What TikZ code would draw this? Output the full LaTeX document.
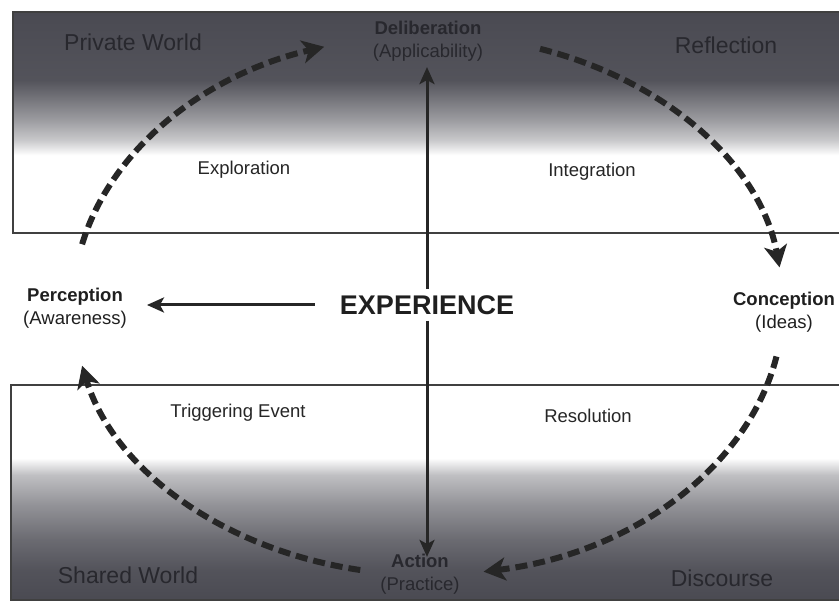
\documentclass[tikz,border=0pt]{standalone}
\usepackage{fontspec}
\setsansfont{Liberation Sans}
\usetikzlibrary{arrows.meta,calc}
\definecolor{dusk}{RGB}{74,74,82}
\definecolor{ink}{RGB}{40,40,46}
\pgfdeclareverticalshading{privatefade}{100bp}{color(0bp)=(white); color(42.6bp)=(white); color(46bp)=(dusk!30); color(50.6bp)=(dusk!55); color(56.2bp)=(dusk!80); color(59.6bp)=(dusk!95); color(75bp)=(dusk); color(100bp)=(dusk)}
\pgfdeclareverticalshading{sharedfade}{100bp}{color(0bp)=(dusk); color(25bp)=(dusk); color(32bp)=(dusk!95); color(39bp)=(dusk!82); color(47.1bp)=(dusk!60); color(54.1bp)=(dusk!35); color(58bp)=(white); color(100bp)=(white)}
\tikzset{every picture/.style={/utils/exec={\sffamily}}}
\tikzset{stage/.style={align=center,inner sep=3pt,text=black!88,font=\fontsize{18.5}{22.5}\selectfont}}
\tikzset{zone/.style={text=black!85,font=\fontsize{18.5}{22}\selectfont}}
\tikzset{world/.style={text=ink,font=\fontsize{23}{27}\selectfont}}
\tikzset{phase/.style={draw=black!85,line width=6pt,dash pattern=on 12pt off 6pt,-{Stealth[length=22pt,width=23pt,inset=6pt]}}}
\tikzset{pull/.style={draw=black!85,line width=3pt,-{Stealth[length=17pt,width=15pt,inset=4pt]}}}

\begin{document}
\begin{tikzpicture}[x=1pt,y=1pt]
    \useasboundingbox (0,0) rectangle (839,604);
    % the two worlds
    \shade [shading=privatefade] (13,371) rectangle (839,592);
    \shade [shading=sharedfade] (11,4) rectangle (839,219);
    \draw [black!75,line width=1.2pt] (839,592) -- (13,592) -- (13,371) -- (839,371);
    \draw [black!75,line width=1.2pt] (839,219) -- (11,219) -- (11,4) -- (839,4);
    \node [world] (private) at (133,562) {Private World};
    \node [world] (reflect) at (726,559) {Reflection};
    \node [world] (shared) at (128,29) {Shared World};
    \node [world] (discourse) at (722,26) {Discourse};
    \node [zone] (explor) at (244,434) {Exploration};
    \node [zone] (integ) at (592,432) {Integration};
    \node [zone] (trigger) at (238,191) {Triggering Event};
    \node [zone] (resol) at (588,188) {Resolution};
    % phases
    \node [font=\fontsize{27}{30}\selectfont\bfseries,text=black!88,inner sep=6pt] (exp) at (427,299) {EXPERIENCE};
    \node [stage] (perc) at (75,296) {\textbf{Perception}\\(Awareness)};
    \node [stage] (conc) at (784,292) {\textbf{Conception}\\(Ideas)};
    \node [stage,text=ink] (delib) at (428,563) {\textbf{Deliberation}\\(Applicability)};
    \node [stage,text=ink] (act) at (420,30) {\textbf{Action}\\(Practice)};
    \draw [pull,shorten >=3pt] (exp.north) -- (exp.north |- delib.south);
    \draw [pull,shorten >=-6pt] (exp.south) -- (exp.south |- act.north);
    \draw [pull,shorten <=19pt,shorten >=17pt] (exp.west) -- (exp.west -| perc.east);
    % the inquiry cycle
    \coordinate (ctr) at (428,299);
    \draw [phase] ([shift={(167:355pt and 270pt)}]ctr) arc [start angle=167,end angle=107,x radius=355pt,y radius=270pt];
    \draw [phase] ([shift={(71.6:355pt and 270pt)}]ctr) arc [start angle=71.6,end angle=8,x radius=355pt,y radius=270pt];
    \draw [phase] ([shift={(-11:355pt and 270pt)}]ctr) arc [start angle=-11,end angle=-81,x radius=355pt,y radius=270pt];
    \draw [phase] ([shift={(-101:355pt and 270pt)}]ctr) arc [start angle=-101,end angle=-167,x radius=355pt,y radius=270pt];
\end{tikzpicture}
\end{document}
